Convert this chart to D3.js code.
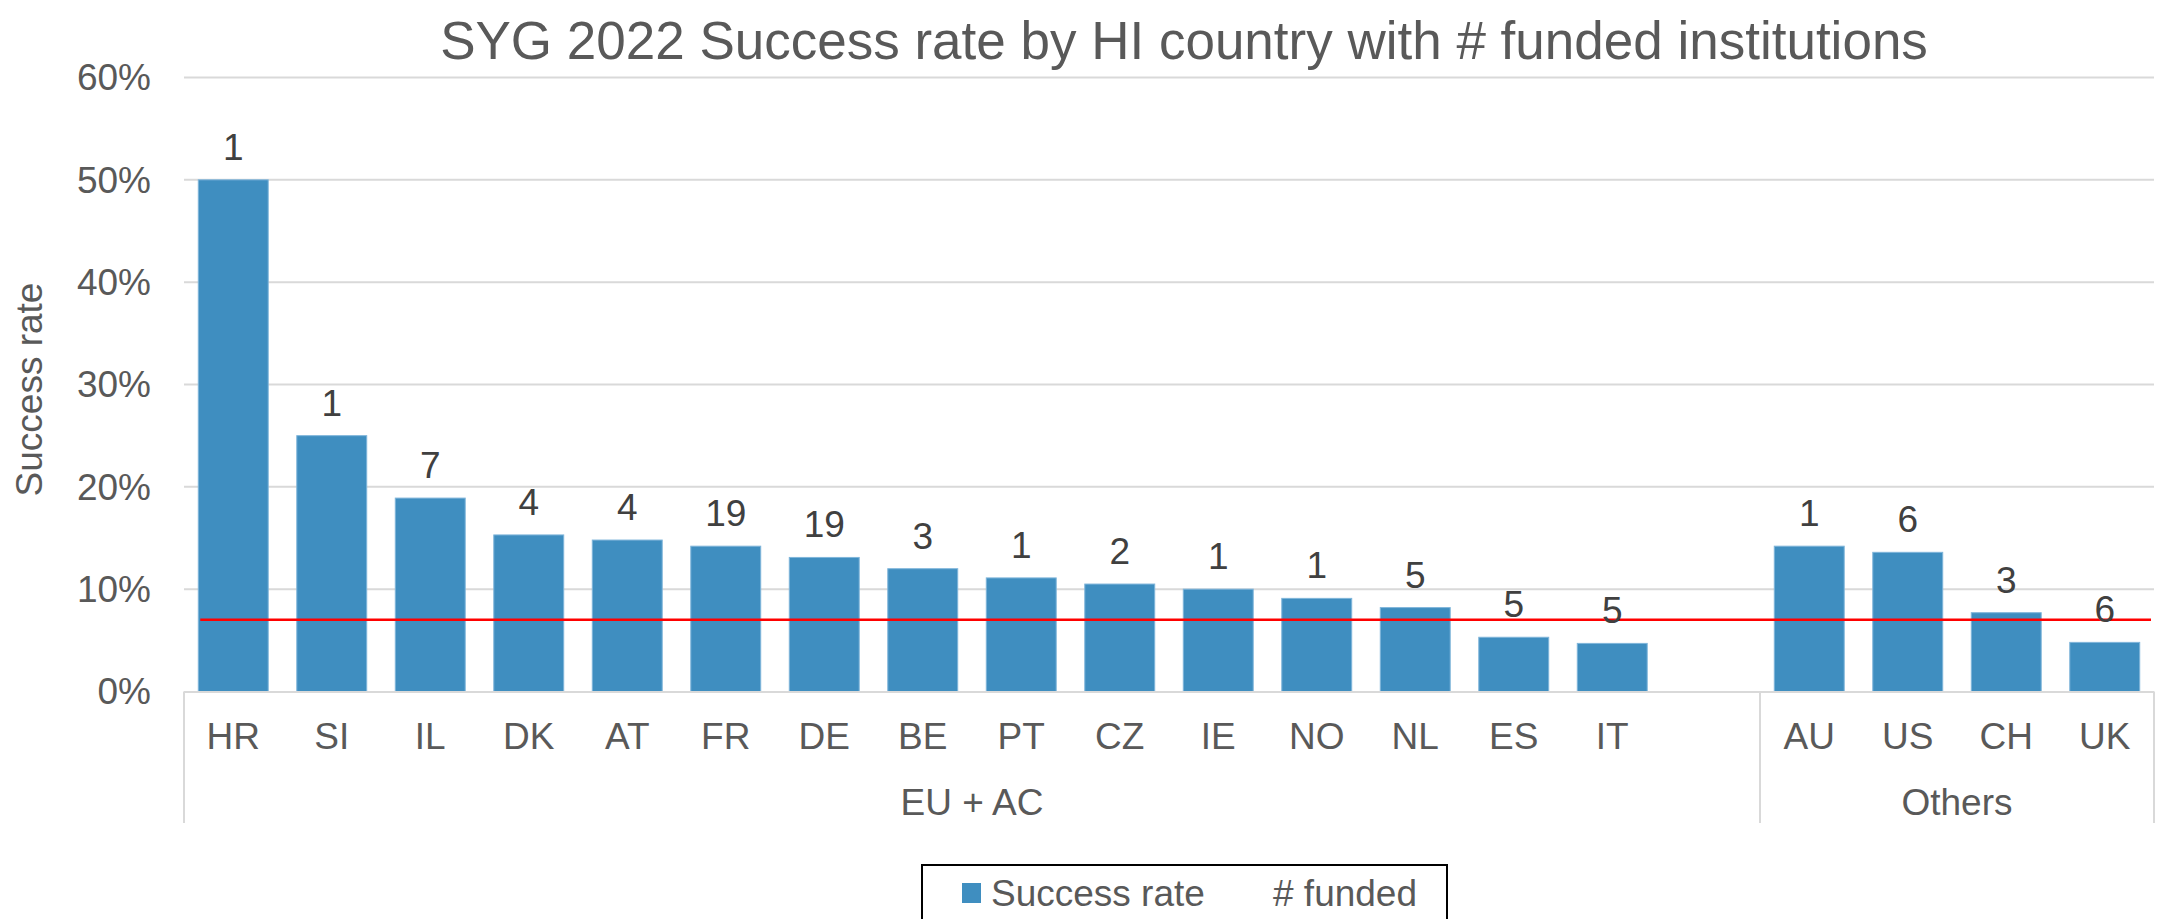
<!DOCTYPE html>
<html>
<head>
<meta charset="utf-8">
<script src="https://cdn.jsdelivr.net/npm/d3@7/dist/d3.min.js"></script>
<style>
html,body{margin:0;padding:0;background:#fff;}
svg{display:block;font-family:"Liberation Sans",Arial,sans-serif;}
</style>
</head>
<body>
<svg id="chart" width="2159" height="919"></svg>
<script>
// ---- data ----
const categories = ["HR","SI","IL","DK","AT","FR","DE","BE","PT","CZ","IE","NO","NL","ES","IT","AU","US","CH","UK"];
const groupOf    = ["EU + AC","EU + AC","EU + AC","EU + AC","EU + AC","EU + AC","EU + AC","EU + AC","EU + AC","EU + AC","EU + AC","EU + AC","EU + AC","EU + AC","EU + AC","Others","Others","Others","Others"];
const successRate = [0.50,0.25,0.189,0.153,0.148,0.142,0.131,0.120,0.111,0.105,0.100,0.091,0.082,0.053,0.047,0.142,0.136,0.077,0.048];
const funded      = [1,1,7,4,4,19,19,3,1,2,1,1,5,5,5,1,6,3,6];
const groups = ["EU + AC","Others"];
const groupSlots = [16,4]; // EU + AC has one empty slot at its end
const yTicks = [0,0.1,0.2,0.3,0.4,0.5,0.6];
const referenceRate = 0.07;
const title = "SYG 2022 Success rate by HI country with # funded institutions";

// ---- layout ----
const plot = {left:184, right:2154, top:77.5, bottom:691.5};
const svg = d3.select("#chart");
const FS = 37;

const slots = [];
groups.forEach((g,gi)=>{
  const members = categories.filter((c,i)=>groupOf[i]===g);
  members.forEach(m=>slots.push(m));
  for(let k=members.length;k<groupSlots[gi];k++) slots.push("__blank"+gi+"_"+k);
});

const x = d3.scaleBand().domain(slots).range([plot.left, plot.right]).paddingInner(0.29).paddingOuter(0.145);
const xSlot = d3.scaleBand().domain(slots).range([plot.left, plot.right]).padding(0);
const y = d3.scaleLinear().domain([0,0.6]).range([plot.bottom, plot.top]);

const textGray = "#595959";

// title
svg.append("text").attr("x", 1184).attr("y", 59).attr("text-anchor","middle")
  .attr("font-size", 53).attr("fill", textGray).text(title);

// gridlines
svg.append("g").selectAll("line").data(yTicks.filter(t=>t>0)).join("line")
  .attr("x1", plot.left).attr("x2", plot.right)
  .attr("y1", d=>y(d)).attr("y2", d=>y(d))
  .attr("stroke", "#D9D9D9").attr("stroke-width", 2);

// y axis labels
svg.append("g").selectAll("text").data(yTicks).join("text")
  .attr("x", 151).attr("y", d=>y(d)).attr("dy","0.35em")
  .attr("text-anchor","end").attr("font-size", FS).attr("fill", textGray)
  .text(d=>d3.format(".0%")(d));

// y title
svg.append("text").attr("transform", `translate(42,${(plot.top+plot.bottom)/2 + 5}) rotate(-90)`)
  .attr("text-anchor","middle").attr("font-size", FS).attr("fill", textGray).text("Success rate");

// bars
const barData = categories.map((c,i)=>({c, v:successRate[i], n:funded[i]}));
svg.append("g").selectAll("rect").data(barData).join("rect")
  .attr("x", d=>x(d.c)).attr("width", x.bandwidth())
  .attr("y", d=>y(d.v)).attr("height", d=>y(0)-y(d.v))
  .attr("fill", "#3F8EC0").attr("stroke","#7FB5DA").attr("stroke-width",1);

// category axis line
svg.append("line").attr("x1", plot.left).attr("x2", plot.right)
  .attr("y1", plot.bottom+0.5).attr("y2", plot.bottom+0.5)
  .attr("stroke","#D9D9D9").attr("stroke-width",2);

// reference line
svg.append("line")
  .attr("x1", x(categories[0]) + 2).attr("x2", plot.right - 3)
  .attr("y1", y(referenceRate)).attr("y2", y(referenceRate))
  .attr("stroke", "#FF0000").attr("stroke-width", 2.5);

// data labels
svg.append("g").selectAll("text").data(barData).join("text")
  .attr("x", d=>x(d.c)+x.bandwidth()/2).attr("y", d=>y(d.v)-20)
  .attr("text-anchor","middle").attr("font-size", FS).attr("fill","#404040")
  .text(d=>d.n);

// category labels
svg.append("g").selectAll("text").data(categories).join("text")
  .attr("x", d=>x(d)+x.bandwidth()/2).attr("y", 736).attr("dy","0.35em")
  .attr("text-anchor","middle").attr("font-size", FS).attr("fill", textGray)
  .text(d=>d);

// group separators and labels
let startIdx = 0;
const bounds = [];
groups.forEach((g,gi)=>{
  const a = xSlot(slots[startIdx]);
  const b = xSlot(slots[startIdx+groupSlots[gi]-1]) + xSlot.bandwidth();
  bounds.push([a,b]);
  startIdx += groupSlots[gi];
});
const sepX = [bounds[0][0], ...bounds.map(b=>b[1])];
svg.append("g").selectAll("line").data(sepX).join("line")
  .attr("x1", d=>d).attr("x2", d=>d).attr("y1", plot.bottom).attr("y2", 823)
  .attr("stroke","#D9D9D9").attr("stroke-width",2);
svg.append("g").selectAll("text").data(groups).join("text")
  .attr("x", (d,i)=>(bounds[i][0]+bounds[i][1])/2).attr("y", 802).attr("dy","0.35em")
  .attr("text-anchor","middle").attr("font-size", FS).attr("fill", textGray)
  .text(d=>d);

// legend
const lg = svg.append("g");
lg.append("rect").attr("x", 922).attr("y", 865).attr("width", 525).attr("height", 80)
  .attr("fill","#fff").attr("stroke","#000").attr("stroke-width",2);
lg.append("rect").attr("x", 962).attr("y", 883).attr("width", 19).attr("height", 20).attr("fill","#3F8EC0");
lg.append("text").attr("x", 991).attr("y", 893).attr("dy","0.35em").attr("font-size", FS).attr("fill", textGray).text("Success rate");
lg.append("text").attr("x", 1273).attr("y", 893).attr("dy","0.35em").attr("font-size", FS).attr("fill", textGray).text("# funded");
</script>
</body>
</html>
